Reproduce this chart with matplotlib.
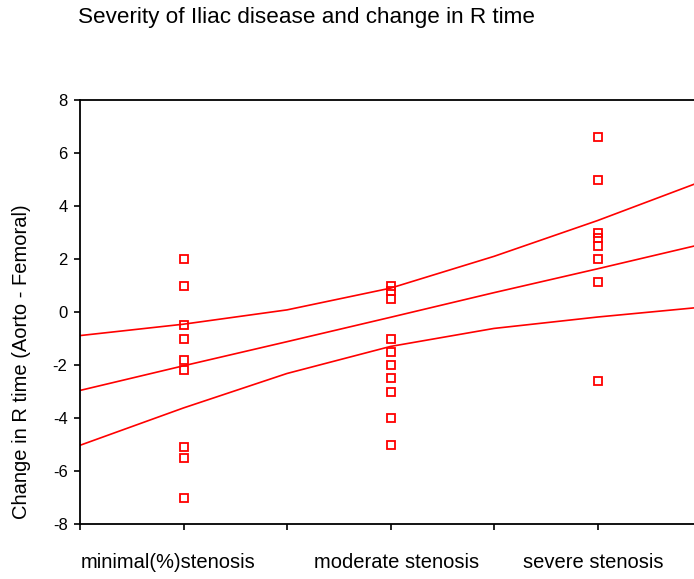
import matplotlib.pyplot as plt
import matplotlib.transforms as mtransforms
import numpy as np

plt.rcParams['font.family'] = ['Liberation Sans', 'DejaVu Sans']
plt.rcParams['axes.unicode_minus'] = False

# category names and their positions on the x axis
categories = ['minimal(%)stenosis', 'moderate stenosis', 'severe stenosis']
cat_pos = [1, 2, 3]

# change in R time (Aorto - Femoral)
minimal = [2.0, 1.0, -0.5, -1.0, -1.8, -2.2, -5.1, -5.5, -7.0]
moderate = [1.0, 0.8, 0.5, -1.0, -1.5, -2.0, -2.5, -3.0, -4.0, -5.0]
severe = [6.6, 5.0, 3.0, 2.8, 2.5, 2.0, 1.15, -2.6]

fit_x = [0.5, 1.0, 1.5, 2.0, 2.5, 3.0, 3.5]
fit_mid = [-2.96, -2.03, -1.12, -0.20, 0.73, 1.63, 2.55]
fit_upper = [-0.89, -0.46, 0.08, 0.90, 2.10, 3.45, 4.92]
fit_lower = [-5.03, -3.62, -2.32, -1.30, -0.62, -0.19, 0.18]

W, H = 694, 579
fig = plt.figure(figsize=(W / 100, H / 100), dpi=100)
# axes run past the right edge of the picture, as in the original
ax = fig.add_axes([80 / W, (H - 524) / H, 621 / W, 424 / H])

for pos, vals in zip(cat_pos, [minimal, moderate, severe]):
    ax.plot([pos] * len(vals), vals, linestyle='none', marker='s',
            markersize=5.5, markerfacecolor='none', markeredgecolor='red',
            markeredgewidth=1.3)

for line in [fit_upper, fit_mid, fit_lower]:
    ax.plot(fit_x, line, color='red', linewidth=1.2)

ax.set_xlim(0.5, 3.5)
ax.set_ylim(-8, 8)
ax.set_yticks(np.arange(-8, 9, 2))
ax.set_xticks(np.arange(0.5, 3.6, 0.5))
ax.set_xticklabels([])
ax.tick_params(axis='both', direction='out', length=4, width=1.2,
               labelsize=12, pad=5)
for s in ax.spines.values():
    s.set_linewidth(1.3)

# category labels sit a little off their tick in the original
label_shift_px = [-15, 6, -4]
for pos, name, dx in zip(cat_pos, categories, label_shift_px):
    tr = ax.transData + mtransforms.ScaledTranslation(dx / 100, 0, fig.dpi_scale_trans)
    ax.text(pos, -9.45, name, ha='center', va='center', fontsize=14.5,
            transform=tr)

fig.text(78 / W, 1 - 18 / H, 'Severity of Iliac disease and change in R time',
         ha='left', va='center', fontsize=16.2)
fig.text(22 / W, 1 - 362 / H, 'Change in R time (Aorto - Femoral)',
         rotation=90, ha='center', va='center', fontsize=14.5)

fig.savefig('out.png', dpi=100)
